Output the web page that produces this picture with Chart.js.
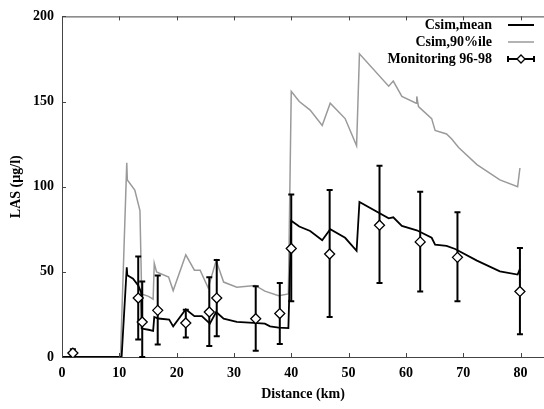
<!DOCTYPE html>
<html>
<head>
<meta charset="utf-8">
<script src="https://cdn.jsdelivr.net/npm/chart.js@4/dist/chart.umd.min.js"></script>
<style>
html,body{margin:0;padding:0;background:#fff;}
#wrap{width:544px;height:409px;position:relative;}
</style>
</head>
<body>
<div id="wrap"><canvas id="c" width="544" height="409"></canvas></div>
<script>
// ---- data ----
const xTicks = [0, 10, 20, 30, 40, 50, 60, 70, 80];
const yTicks = [0, 50, 100, 150, 200];
const seriesNames = ['Csim,mean', 'Csim,90%ile', 'Monitoring 96-98'];

const meanX = [0, 10.4, 11.3, 11.4, 12.4, 13.3, 13.8, 13.9, 15.1, 15.9, 16.1, 16.8, 18.7, 19.4, 21.6, 23.1, 24.4, 25.8, 26.9, 28.2, 30.5, 33.4, 35.4, 36.3, 37.8, 39.5, 40.0, 41.4, 43.3, 45.4, 46.8, 49.4, 51.4, 51.9, 57.0, 57.8, 59.3, 61.9, 64.5, 65.1, 67.1, 68.6, 72.4, 76.4, 79.5, 79.9];
const meanY = [0, 0, 52.7, 48, 46, 42, 38, 16.7, 16, 15.4, 23.5, 22.6, 22, 18, 28, 24, 24, 19.6, 26.4, 22.5, 20.6, 20, 19.6, 18, 17.3, 17, 80, 76.6, 74, 68.6, 75, 70, 62.4, 91, 81.4, 82, 77, 74.4, 70, 66, 65.3, 63.4, 56.6, 50.3, 48.4, 51.7];

const p90X = [0, 10.2, 11.3, 11.4, 12.7, 13.6, 13.9, 15.1, 15.9, 16.1, 16.5, 18.6, 19.4, 21.6, 23.1, 24.1, 25.5, 26.9, 28.2, 30.5, 33.7, 35.4, 37.8, 39.5, 40.0, 41.4, 43.3, 45.4, 46.8, 49.4, 51.4, 51.9, 57.0, 57.8, 59.3, 61.8, 61.9, 62.2, 64.5, 65.1, 67.1, 68.0, 69.2, 72.4, 76.4, 79.5, 79.9];
const p90Y = [0, 0, 114, 104, 98, 86, 37, 35.6, 34, 55, 50, 47, 39, 60, 51, 51, 40.6, 56.6, 44, 41, 42, 38.7, 36, 37, 156, 150, 145, 136, 149, 140, 124, 178, 159, 162, 153, 149, 153, 147, 140, 133, 131, 128, 123, 113, 104, 100, 111];

const monX    = [1.9, 13.3, 14.0, 16.7, 21.6, 25.7, 27.0, 33.8, 38.0, 40.0, 46.7, 55.4, 62.5, 69.0, 79.9];
const monY    = [2.3, 34.6, 20.6, 27.4, 20.0, 26.4, 34.6, 22.5, 25.5, 63.7, 60.5, 77.4, 67.6, 58.5, 38.5];
const monHigh = [4.5, 59.0, 44.3, 47.8, 27.8, 46.8, 57.0, 41.6, 43.5, 95.4, 98.0, 112.3, 97.0, 85.0, 64.0];
const monLow  = [0.5, 10.3, 0.0, 7.4, 11.5, 6.4, 12.2, 3.7, 7.6, 32.7, 23.5, 43.5, 38.5, 32.7, 13.4];

// ---- helpers ----
const pts = (xs, ys) => xs.map((x, i) => ({x: x, y: ys[i]}));
const FONT = {family: '"Liberation Serif", "Times New Roman", serif', size: 14, weight: 'bold'};
const AXIS = '#444';

const errorBars = {
  id: 'errorBars',
  beforeDatasetDraw(chart, args) {
    if (args.index !== 2) return;
    const {ctx, scales: {x, y}} = chart;
    ctx.save();
    ctx.strokeStyle = '#000';
    ctx.lineWidth = 2;
    for (let i = 0; i < monX.length; i++) {
      const px = x.getPixelForValue(monX[i]);
      const top = y.getPixelForValue(monHigh[i]);
      const bot = y.getPixelForValue(monLow[i]);
      ctx.beginPath();
      ctx.moveTo(px, top); ctx.lineTo(px, bot);
      ctx.moveTo(px - 3, top); ctx.lineTo(px + 3, top);
      ctx.moveTo(px - 3, bot); ctx.lineTo(px + 3, bot);
      ctx.stroke();
    }
    ctx.restore();
  }
};

const frame = {
  id: 'frame',
  afterDraw(chart) {
    const {ctx, chartArea: a, scales: {x, y}} = chart;
    ctx.save();
    ctx.strokeStyle = AXIS;
    ctx.lineWidth = 1;
    ctx.beginPath();
    ctx.moveTo(a.left, a.top + 0.5); ctx.lineTo(a.right, a.top + 0.5);
    xTicks.forEach(v => {
      const px = Math.round(x.getPixelForValue(v)) + 0.5;
      ctx.moveTo(px, a.bottom); ctx.lineTo(px, a.bottom - 4);
      ctx.moveTo(px, a.top); ctx.lineTo(px, a.top + 4);
    });
    yTicks.forEach(v => {
      const py = Math.round(y.getPixelForValue(v)) + 0.5;
      ctx.moveTo(a.left, py); ctx.lineTo(a.left + 4, py);
    });
    ctx.stroke();

    // legend
    ctx.font = 'bold 14px "Liberation Serif", "Times New Roman", serif';
    ctx.textAlign = 'right';
    ctx.textBaseline = 'middle';
    ctx.fillStyle = '#000';
    const rows = [25, 42, 59];
    const lx0 = a.right - 36, lx1 = a.right - 10, tx = a.right - 52;
    seriesNames.forEach((name, i) => {
      const yy = rows[i];
      ctx.fillText(name, tx, yy);
      ctx.beginPath();
      ctx.strokeStyle = i === 1 ? '#9a9a9a' : '#000';
      ctx.lineWidth = i === 1 ? 1.5 : 2;
      ctx.moveTo(lx0, yy); ctx.lineTo(lx1, yy);
      if (i === 2) {
        ctx.moveTo(lx0, yy - 3); ctx.lineTo(lx0, yy + 3);
        ctx.moveTo(lx1, yy - 3); ctx.lineTo(lx1, yy + 3);
      }
      ctx.stroke();
      if (i === 2) {
        const cx = (lx0 + lx1) / 2;
        ctx.beginPath();
        ctx.moveTo(cx, yy - 4); ctx.lineTo(cx + 4, yy); ctx.lineTo(cx, yy + 4); ctx.lineTo(cx - 4, yy); ctx.closePath();
        ctx.fillStyle = '#fff'; ctx.fill();
        ctx.lineWidth = 1.3; ctx.strokeStyle = '#000'; ctx.stroke();
        ctx.fillStyle = '#000';
      }
    });
    ctx.restore();
  }
};

new Chart(document.getElementById('c'), {
  type: 'line',
  data: {
    datasets: [
      {label: seriesNames[0], data: pts(meanX, meanY), borderColor: '#000', borderWidth: 1.8, pointRadius: 0, tension: 0, fill: false, order: 2},
      {label: seriesNames[1], data: pts(p90X, p90Y), borderColor: '#9a9a9a', borderWidth: 1.5, pointRadius: 0, tension: 0, fill: false, order: 3},
      {label: seriesNames[2], data: pts(monX, monY), showLine: false, pointStyle: 'rectRot', pointRadius: 5, pointBorderWidth: 1.3,
       pointBackgroundColor: '#fff', pointBorderColor: '#000', borderColor: '#000', backgroundColor: '#fff', order: 1}
    ]
  },
  options: {
    responsive: false,
    animation: false,
    devicePixelRatio: 1,
    layout: {autoPadding: false, padding: {top: 14, right: 0, left: 0, bottom: 0}},
    plugins: {legend: {display: false}, tooltip: {enabled: false}},
    scales: {
      x: {
        type: 'linear', min: 0, max: 84.1,
        afterBuildTicks: s => { s.ticks = xTicks.map(v => ({value: v})); },
        afterFit: s => { s.height = 52; s.paddingRight = 0; s.paddingLeft = 0; },
        grid: {display: false, drawTicks: false},
        border: {display: true, color: AXIS, width: 1},
        ticks: {color: '#000', font: FONT, padding: 8, maxRotation: 0},
        title: {display: true, text: 'Distance (km)', color: '#000', font: FONT, padding: {top: 4, bottom: 6}}
      },
      y: {
        type: 'linear', min: 0, max: 200,
        afterBuildTicks: s => { s.ticks = yTicks.map(v => ({value: v})); },
        afterFit: s => { s.width = 62; },
        grid: {display: false, drawTicks: false},
        border: {display: true, color: AXIS, width: 1},
        ticks: {color: '#000', font: FONT, padding: 8},
        title: {display: true, text: 'LAS (µg/l)', color: '#000', font: FONT, padding: {top: 8, bottom: 0}}
      }
    }
  },
  plugins: [errorBars, frame]
});
</script>
</body>
</html>
